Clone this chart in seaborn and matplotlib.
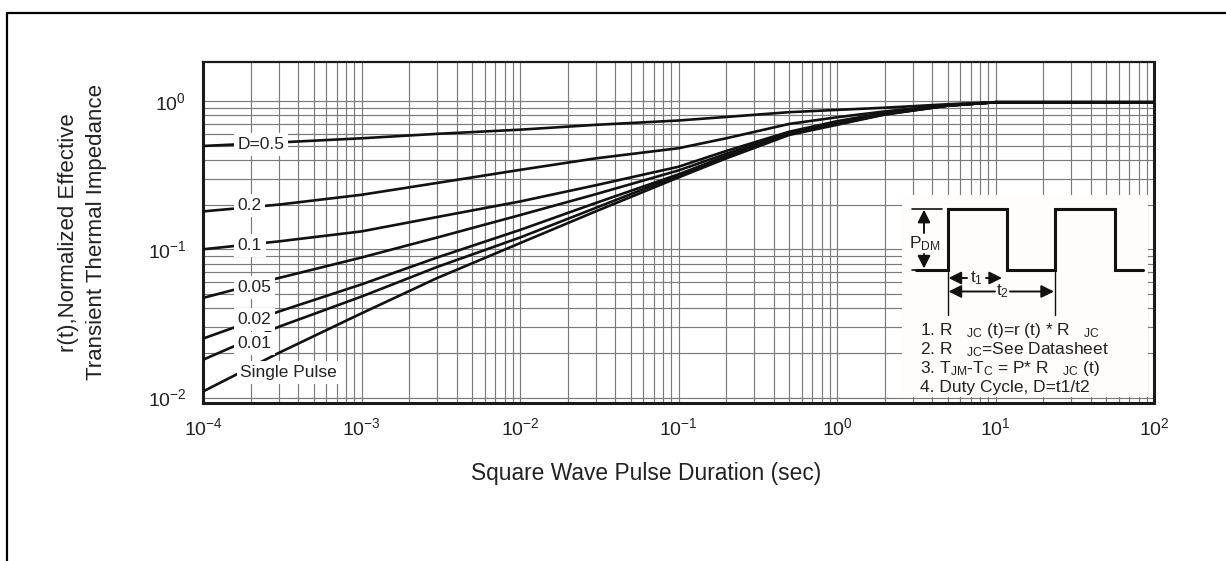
import matplotlib
matplotlib.use("Agg")
import matplotlib.pyplot as plt
from matplotlib.lines import Line2D
import seaborn as sns
import pandas as pd

# pulse duration (sec) where the curves were read
t_sec = [1e-4, 3e-4, 1e-3, 3e-3, 1e-2, 3e-2, 1e-1, 2e-1, 5e-1, 1, 2, 5, 10, 100]

# normalized transient thermal impedance, one list per duty cycle
r_d05 = [0.497, 0.525, 0.56, 0.60, 0.64, 0.69, 0.738, 0.78, 0.84, 0.87, 0.90, 0.95, 0.98, 0.98]
r_d02 = [0.18, 0.20, 0.233, 0.28, 0.343, 0.41, 0.48, 0.56, 0.70, 0.776, 0.85, 0.94, 0.98, 0.98]
r_d01 = [0.10, 0.113, 0.132, 0.165, 0.21, 0.27, 0.36, 0.46, 0.62, 0.73, 0.83, 0.93, 0.98, 0.98]
r_d005 = [0.047, 0.064, 0.088, 0.12, 0.17, 0.235, 0.34, 0.44, 0.61, 0.72, 0.82, 0.93, 0.98, 0.98]
r_d002 = [0.025, 0.038, 0.058, 0.088, 0.135, 0.205, 0.32, 0.425, 0.60, 0.71, 0.82, 0.93, 0.98, 0.98]
r_d001 = [0.018, 0.030, 0.048, 0.076, 0.12, 0.19, 0.315, 0.42, 0.595, 0.70, 0.81, 0.93, 0.98, 0.98]
r_single = [0.011, 0.020, 0.037, 0.064, 0.11, 0.18, 0.305, 0.41, 0.59, 0.69, 0.81, 0.93, 0.98, 0.98]

curve_names = ["D=0.5", "0.2", "0.1", "0.05", "0.02", "0.01", "Single Pulse"]
curve_values = [r_d05, r_d02, r_d01, r_d005, r_d002, r_d001, r_single]
# where the curve labels sit (left edge x, centre y)
label_x = [1.65e-4, 1.65e-4, 1.65e-4, 1.65e-4, 1.65e-4, 1.65e-4, 1.72e-4]
label_y = [0.51, 0.198, 0.106, 0.0554, 0.0336, 0.0232, 0.01475]

notes = [
    r"1. R   $_{\mathdefault{JC}}$ (t)=r (t) * R   $_{\mathdefault{JC}}$",
    r"2. R   $_{\mathdefault{JC}}$=See Datasheet",
    r"3. T$_{\mathdefault{JM}}$-T$_{\mathdefault{C}}$ = P* R   $_{\mathdefault{JC}}$ (t)",
    "4. Duty Cycle, D=t1/t2",
]

df = pd.concat(
    [pd.DataFrame({"t": t_sec, "r": v, "D": n}) for n, v in zip(curve_names, curve_values)],
    ignore_index=True,
)

sns.set_theme(style="white")
plt.rcParams["font.family"] = ["Liberation Sans", "DejaVu Sans"]
plt.rcParams["mathtext.fontset"] = "custom"
plt.rcParams["mathtext.rm"] = "Liberation Sans"
plt.rcParams["mathtext.it"] = "Liberation Sans:italic"
plt.rcParams["mathtext.bf"] = "Liberation Sans:bold"

W, H = 1226, 561
fig = plt.figure(figsize=(W / 100, H / 100), dpi=100)
ax = fig.add_axes([203 / W, 1 - 403 / H, (1154 - 203) / W, (403 - 62) / H])

sns.lineplot(data=df, x="t", y="r", hue="D", palette=["#111111"] * 7,
             legend=False, lw=1.9, ax=ax, zorder=3)

ax.set_xscale("log")
ax.set_yscale("log")
ax.set_xlim(1e-4, 1e2)
ax.set_ylim(0.0092, 1.83)
ax.grid(True, which="both", color="#7a7a7a", lw=0.85)
ax.set_axisbelow(True)
ax.tick_params(which="both", length=0, labelsize=14, colors="#222222")
ax.tick_params(axis="y", pad=12)
ax.tick_params(axis="x", pad=10)
for s in ax.spines.values():
    s.set_linewidth(2.2)
    s.set_color("#1a1a1a")
ax.spines["top"].set_linewidth(1.6)

ax.set_xlabel("Square Wave Pulse Duration (sec)", fontsize=16.4, color="#222222")
ax.xaxis.set_label_coords(0.466, -0.173)
ax.set_ylabel("r(t),Normalized Effective\nTransient Thermal Impedance",
              fontsize=16, color="#222222", linespacing=1.45)
ax.yaxis.set_label_coords(-0.101, 0.5)

for name, x, y in zip(curve_names, label_x, label_y):
    ax.text(x, y, name, fontsize=12.5, color="#222222", ha="left", va="center", zorder=4,
            bbox=dict(boxstyle="square,pad=0.22", fc="white", ec="none"))

# inset with the waveform sketch and notes, in pixel-like local units
ins = ax.inset_axes([(902 - 203) / 951, (403 - 397) / 341, (1148 - 902) / 951, (397 - 195) / 341])
ins.set_facecolor("#fefdfb")
ins.set_xticks([])
ins.set_yticks([])
for s in ins.spines.values():
    s.set_visible(False)
ins.set_xlim(902, 1148)
ins.set_ylim(397, 195)
ins.set_zorder(5)

lo, hi = 269.5, 208.7
ins.plot([915.5, 947.6, 947.6, 1006.7, 1006.7, 1055, 1055, 1114.8, 1114.8, 1142.8],
         [lo, lo, hi, hi, lo, lo, hi, hi, lo, lo], color="#111111", lw=2.2,
         solid_joinstyle="miter")
ins.plot([912, 942], [hi, hi], color="#111111", lw=1.2)
ins.plot([912, 942], [lo, lo], color="#111111", lw=1.2)
ins.plot([947.6, 947.6], [272, 315], color="#111111", lw=1.0)
ins.plot([1055, 1055], [272, 315], color="#111111", lw=1.0)

arrow = dict(arrowstyle="-|>", color="#111111", lw=1.4, mutation_scale=19, shrinkA=0, shrinkB=0)
ins.annotate("", xy=(924, hi + 1), xytext=(924, 233), arrowprops=arrow)
ins.annotate("", xy=(924, lo - 1), xytext=(924, 254), arrowprops=arrow)
ins.text(925, 244, r"P$_{\mathdefault{DM}}$", fontsize=12.5, ha="center", va="center", color="#222222")

ins.annotate("", xy=(948.5, 278), xytext=(967, 278), arrowprops=arrow)
ins.annotate("", xy=(1002, 278), xytext=(986, 278), arrowprops=arrow)
ins.text(976.5, 278, r"t$_{\mathdefault{1}}$", fontsize=12.5, ha="center", va="center", color="#222222")
ins.annotate("", xy=(948.5, 291.5), xytext=(995, 291.5), arrowprops=arrow)
ins.annotate("", xy=(1054, 291.5), xytext=(1010, 291.5), arrowprops=arrow)
ins.text(1002.5, 291.5, r"t$_{\mathdefault{2}}$", fontsize=12.5, ha="center", va="center", color="#222222")

for i, line in enumerate(notes):
    ins.text(920, 330 + i * 19.3, line, fontsize=12.5, ha="left", va="center", color="#222222")

# outer frame of the datasheet page
fig.add_artist(Line2D([7 / W, 1], [1 - 13 / H, 1 - 13 / H], color="black", lw=1.6))
fig.add_artist(Line2D([7 / W, 7 / W], [0, 1 - 13 / H], color="black", lw=1.6))

plt.savefig("out.png", dpi=100)
